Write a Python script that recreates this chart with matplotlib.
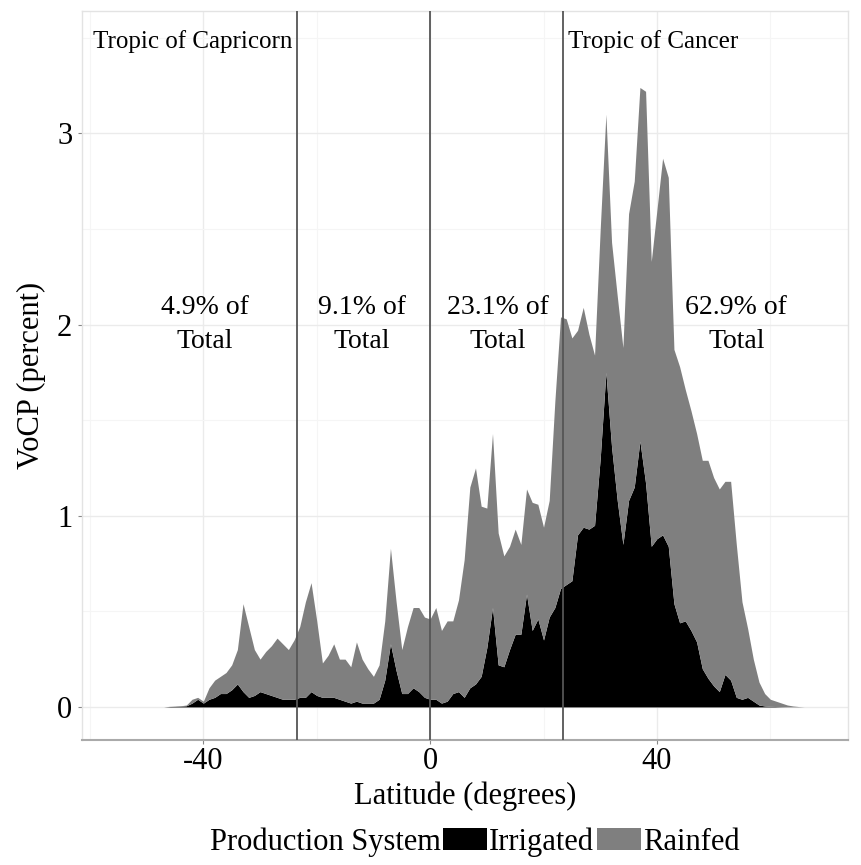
import numpy as np
import matplotlib
matplotlib.use('Agg')
import matplotlib.pyplot as plt
from matplotlib.patches import Patch

plt.rcParams['font.family'] = ['Liberation Serif', 'DejaVu Serif']

# latitude bins (degrees)
lat = list(range(-47, 67))

# top of the stack (irrigated + rainfed), percent
total = [0, 0.003, 0.004, 0.006, 0.01, 0.04, 0.05, 0.03, 0.10, 0.14,
         0.16, 0.18, 0.22, 0.30, 0.54, 0.42, 0.30, 0.25, 0.29, 0.32,
         0.36, 0.33, 0.30, 0.35, 0.42, 0.55, 0.65, 0.45, 0.23, 0.27,
         0.33, 0.25, 0.25, 0.21, 0.34, 0.25, 0.20, 0.16, 0.22, 0.45,
         0.83, 0.55, 0.30, 0.42, 0.52, 0.52, 0.47, 0.46, 0.52, 0.40,
         0.45, 0.45, 0.56, 0.77, 1.15, 1.25, 1.05, 1.04, 1.43, 0.91,
         0.79, 0.84, 0.93, 0.85, 1.14, 1.07, 1.06, 0.94, 1.08, 1.60,
         2.04, 2.03, 1.93, 1.97, 2.09, 1.95, 1.84, 2.50, 3.10, 2.43,
         2.15, 1.88, 2.58, 2.75, 3.24, 3.22, 2.33, 2.60, 2.87, 2.77,
         1.87, 1.78, 1.66, 1.55, 1.43, 1.29, 1.29, 1.20, 1.14, 1.18,
         1.18, 0.85, 0.55, 0.41, 0.25, 0.13, 0.07, 0.04, 0.03, 0.02,
         0.01, 0.005, 0.002, 0]

# irrigated share, percent
irrigated = [0, 0.002, 0.003, 0.004, 0.006, 0.02, 0.04, 0.02, 0.04, 0.05,
             0.07, 0.07, 0.09, 0.12, 0.08, 0.05, 0.06, 0.08, 0.07, 0.06,
             0.05, 0.04, 0.04, 0.04, 0.05, 0.05, 0.08, 0.06, 0.05, 0.05,
             0.05, 0.04, 0.03, 0.02, 0.03, 0.02, 0.02, 0.02, 0.04, 0.14,
             0.33, 0.19, 0.07, 0.07, 0.10, 0.08, 0.05, 0.04, 0.04, 0.02,
             0.03, 0.07, 0.08, 0.05, 0.10, 0.12, 0.16, 0.31, 0.52, 0.22,
             0.21, 0.30, 0.38, 0.38, 0.59, 0.40, 0.46, 0.35, 0.47, 0.52,
             0.62, 0.64, 0.66, 0.90, 0.94, 0.93, 0.95, 1.30, 1.75, 1.36,
             1.08, 0.85, 1.08, 1.15, 1.39, 1.17, 0.84, 0.88, 0.90, 0.84,
             0.54, 0.44, 0.45, 0.40, 0.34, 0.20, 0.15, 0.11, 0.08, 0.17,
             0.14, 0.05, 0.04, 0.05, 0.03, 0.01, 0.005, 0.003, 0.002, 0.001,
             0, 0, 0, 0]

tropics = [-23.44, 0, 23.44]
zone_x = [-39.7, -12, 12, 54]
zone_labels = ['4.9% of\nTotal', '9.1% of\nTotal', '23.1% of\nTotal', '62.9% of\nTotal']

fig = plt.figure(figsize=(8.61, 8.65), dpi=100)
ax = fig.add_axes([82/861, 1 - 740/865, (848 - 82)/861, (740 - 11)/865])

ax.fill_between(lat, 0, irrigated, color='black', linewidth=0, zorder=2)
ax.fill_between(lat, irrigated, total, color='#7f7f7f', linewidth=0, zorder=2)

for t in tropics:
    ax.axvline(t, color='#555555', linewidth=1.3, zorder=3)

ax.text(-24.3, 3.48, 'Tropic of Capricorn', ha='right', va='center', fontsize=18)
ax.text(24.3, 3.48, 'Tropic of Cancer', ha='left', va='center', fontsize=18)
for xx, lab in zip(zone_x, zone_labels):
    ax.text(xx, 2.0, lab, ha='center', va='center', fontsize=20, linespacing=1.45)

ax.set_xlim(-61.4, 73.7)
ax.set_ylim(-0.173, 3.64)
ax.set_xticks([-40, 0, 40])
ax.set_xticklabels(['-40', '0', '40'])
ax.set_yticks([0, 1, 2, 3])
ax.set_xticks([-60, -20, 20, 60], minor=True)
ax.set_yticks([0.5, 1.5, 2.5, 3.5], minor=True)
ax.grid(which='major', color='#ebebeb', linewidth=1, zorder=0)
ax.grid(which='minor', color='#f5f5f5', linewidth=0.8, zorder=0)
ax.set_axisbelow(True)
ax.tick_params(which='major', labelsize=22, length=3, color='#888888', pad=4)
ax.tick_params(axis='x', which='major', pad=2)
ax.tick_params(which='minor', length=0)

for side in ['top', 'left', 'right']:
    ax.spines[side].set_color('#e3e3e3')
    ax.spines[side].set_linewidth(1)
ax.spines['bottom'].set_color('#aaaaaa')
ax.spines['bottom'].set_linewidth(1.5)

ax.set_xlabel('Latitude (degrees)', fontsize=22, labelpad=4)
ax.set_ylabel('VoCP (percent)', fontsize=22, labelpad=8)

fig.text(441/861, 1 - 842/865, 'Production System', ha='right', va='center', fontsize=22)
handles = [Patch(facecolor='black', edgecolor='none'), Patch(facecolor='#7f7f7f', edgecolor='none')]
fig.legend(handles, ['Irrigated', 'Rainfed'], ncol=2, loc='center left',
           bbox_to_anchor=(443/861, 1 - 842/865), frameon=False, fontsize=22,
           handlelength=1.45, handleheight=0.75, handletextpad=0.05,
           columnspacing=0.1, borderpad=0, borderaxespad=0)

fig.savefig('out.png', dpi=100)
